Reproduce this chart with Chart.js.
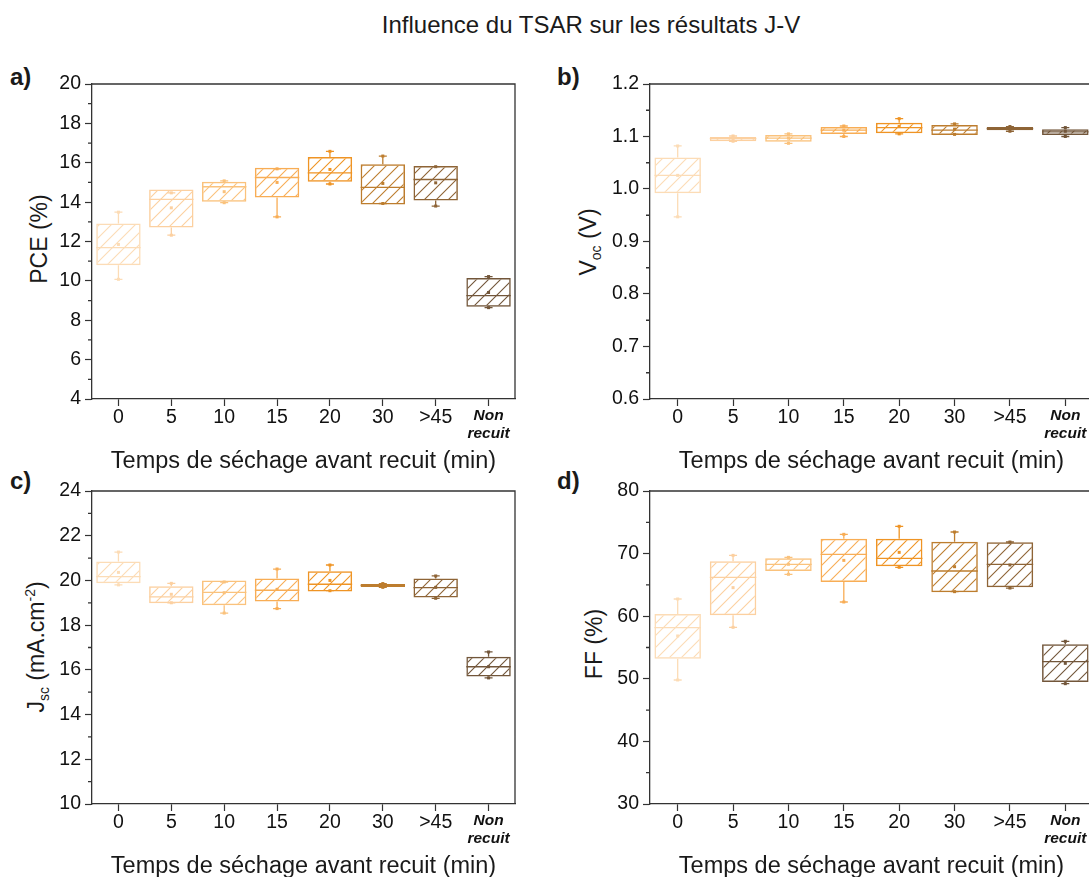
<!DOCTYPE html>
<html>
<head>
<meta charset="utf-8">
<script src="https://cdn.jsdelivr.net/npm/chart.js@4.4.1/dist/chart.umd.min.js"></script>
<style>
  body { margin: 0; width: 1089px; height: 877px; overflow: hidden; position: relative; background: #fff;
         font-family: "Liberation Sans", Arial, sans-serif; color: #1a1a1a; }
  .panel { position: absolute; }
  .main-title { position: absolute; left: 291px; width: 600px; top: 11px; text-align: center; font-size: 24px; line-height: 28px; }
  .tag { position: absolute; font-weight: bold; font-size: 24px; line-height: 26px; }
  .ytitle { position: absolute; font-size: 23px; white-space: nowrap; transform: translate(-50%, -50%) rotate(-90deg); }
  .ytitle sub { font-size: 14px; vertical-align: -5px; }
  .ytitle sup { font-size: 14px; vertical-align: 9px; }
</style>
</head>
<body>
<div class="main-title">Influence du TSAR sur les résultats J-V</div>

<div class="tag" style="left:10px;top:64px">a)</div>
<div class="tag" style="left:557px;top:64px">b)</div>
<div class="tag" style="left:10px;top:468px">c)</div>
<div class="tag" style="left:557px;top:468px">d)</div>

<div class="ytitle" style="left:39px;top:239px">PCE (%)</div>
<div class="ytitle" style="left:589px;top:242px">V<sub>oc</sub> (V)</div>
<div class="ytitle" style="left:37px;top:647px">J<sub>sc</sub> (mA.cm<sup>-2</sup>)</div>
<div class="ytitle" style="left:594px;top:644px">FF (%)</div>

<div class="panel" style="left:0;top:60px;width:545px;height:419px"><canvas id="pce"></canvas></div>
<div class="panel" style="left:545px;top:60px;width:560px;height:419px"><canvas id="voc"></canvas></div>
<div class="panel" style="left:0;top:470px;width:545px;height:414px"><canvas id="jsc"></canvas></div>
<div class="panel" style="left:545px;top:470px;width:560px;height:414px"><canvas id="ff"></canvas></div>

<script>
const categories = ["0", "5", "10", "15", "20", "30", ">45", "Non recuit"];
const boxColors = ["#FCDCB6", "#FCD0A0", "#FAC27C", "#F8AD55", "#EF9424", "#BD7D2E", "#8E6436", "#72563A"];

// PCE (%)
const pceLow = [10.80, 12.71, 14.02, 14.24, 15.03, 13.88, 14.08, 8.68];
const pceHigh = [12.92, 14.64, 15.03, 15.75, 16.29, 15.93, 15.83, 10.15];
const pceMedian = [11.69, 14.14, 14.78, 15.25, 15.49, 14.75, 15.15, 9.25];
const pceMean = [11.85, 13.71, 14.53, 15.00, 15.66, 14.95, 14.98, 9.41];
const pceMin = [10.08, 12.32, 13.97, 13.25, 14.92, 13.93, 13.80, 8.64];
const pceMax = [13.49, 14.47, 15.08, 15.69, 16.58, 16.34, 15.80, 10.22];
const pceTicks = [4, 6, 8, 10, 12, 14, 16, 18, 20];

// Voc (V)
const vocLow = [0.992, 1.091, 1.090, 1.105, 1.106, 1.103, 1.112, 1.103];
const vocHigh = [1.060, 1.099, 1.103, 1.118, 1.126, 1.122, 1.118, 1.114];
const vocMedian = [1.026, 1.096, 1.097, 1.112, 1.117, 1.112, 1.115, 1.109];
const vocMean = [1.026, 1.096, 1.097, 1.112, 1.119, 1.114, 1.115, 1.110];
const vocMin = [0.947, 1.091, 1.087, 1.100, 1.105, 1.104, 1.110, 1.100];
const vocMax = [1.082, 1.101, 1.105, 1.120, 1.134, 1.124, 1.119, 1.117];
const vocTicks = [0.6, 0.7, 0.8, 0.9, 1.0, 1.1, 1.2];

// Jsc (mA.cm-2)
const jscLow = [19.87, 18.98, 18.89, 19.06, 19.51, 19.71, 19.24, 15.70];
const jscHigh = [20.85, 19.74, 20.00, 20.09, 20.41, 19.84, 20.09, 16.59];
const jscMedian = [20.17, 19.26, 19.47, 19.56, 19.83, 19.78, 19.68, 16.14];
const jscMean = [20.36, 19.38, 19.45, 19.60, 20.00, 19.78, 19.69, 16.14];
const jscMin = [19.80, 19.00, 18.54, 18.74, 19.54, 19.69, 19.20, 15.64];
const jscMax = [21.27, 19.87, 19.93, 20.51, 20.69, 19.86, 20.20, 16.80];
const jscTicks = [10, 12, 14, 16, 18, 20, 22, 24];

// FF (%)
const ffLow = [53.22, 60.14, 67.22, 65.46, 67.97, 63.81, 64.61, 49.49];
const ffHigh = [60.35, 68.76, 69.24, 72.39, 72.39, 71.91, 71.80, 55.51];
const ffMedian = [58.17, 66.21, 68.29, 69.88, 69.24, 67.22, 68.29, 52.74];
const ffMean = [56.84, 64.56, 68.29, 68.92, 70.20, 67.91, 68.18, 52.47];
const ffMin = [49.81, 58.22, 66.69, 62.27, 67.81, 63.92, 64.50, 49.22];
const ffMax = [62.75, 69.72, 69.40, 73.08, 74.36, 73.45, 71.85, 55.99];
const ffTicks = [30, 40, 50, 60, 70, 80];

const FONT = "Liberation Sans";
const AXIS = "#333333";

function hatch(color) {
    const c = document.createElement("canvas");
    c.width = 12; c.height = 12;
    const g = c.getContext("2d");
    g.strokeStyle = color;
    g.lineWidth = 1.1;
    g.beginPath();
    g.moveTo(0, 12); g.lineTo(12, 0);
    g.moveTo(-6, 6); g.lineTo(6, -6);
    g.moveTo(6, 18); g.lineTo(18, 6);
    g.stroke();
    return g.createPattern(c, "repeat");
}

// whiskers, median, mean, frame and minor ticks
const boxExtras = {
    id: "boxExtras",
    afterDatasetsDraw(chart, args, opts) {
        const ctx = chart.ctx;
        const y = chart.scales.y;
        const meta = chart.getDatasetMeta(0);
        ctx.save();
        meta.data.forEach((bar, i) => {
            const col = boxColors[i];
            const x = bar.x, half = bar.width / 2;
            const yLow = y.getPixelForValue(opts.low[i]);
            const yHigh = y.getPixelForValue(opts.high[i]);
            const yMin = y.getPixelForValue(opts.min[i]);
            const yMax = y.getPixelForValue(opts.max[i]);
            ctx.strokeStyle = col;
            ctx.fillStyle = col;
            ctx.lineWidth = 1.3;
            ctx.beginPath();
            if (yMax < yHigh) { ctx.moveTo(x, yHigh); ctx.lineTo(x, yMax); }
            if (yMin > yLow) { ctx.moveTo(x, yLow); ctx.lineTo(x, yMin); }
            // caps
            ctx.moveTo(x - 4, yMax); ctx.lineTo(x + 4, yMax);
            ctx.moveTo(x - 4, yMin); ctx.lineTo(x + 4, yMin);
            // median
            const yMed = y.getPixelForValue(opts.median[i]);
            ctx.moveTo(x - half, yMed); ctx.lineTo(x + half, yMed);
            ctx.stroke();
            ctx.fillRect(x - 1.5, yMax - 1.5, 3, 3);
            ctx.fillRect(x - 1.5, yMin - 1.5, 3, 3);
            const yMean = y.getPixelForValue(opts.mean[i]);
            ctx.fillRect(x - 1.5, yMean - 1.5, 3, 3);
        });

        const a = chart.chartArea;
        ctx.strokeStyle = AXIS;
        ctx.lineWidth = 1.3;
        ctx.beginPath();
        ctx.moveTo(a.left, a.top); ctx.lineTo(a.right, a.top); ctx.lineTo(a.right, a.bottom);
        // minor ticks halfway between the major ones
        const t = opts.ticks;
        for (let k = 0; k < t.length - 1; k++) {
            const py = y.getPixelForValue((t[k] + t[k + 1]) / 2);
            ctx.moveTo(a.left - 4, py); ctx.lineTo(a.left, py);
        }
        ctx.stroke();
        ctx.restore();
    }
};

function makePanel(id, s, yWidth, pad, decimals) {
    const ticks = s.ticks;
    new Chart(document.getElementById(id), {
        type: "bar",
        data: {
            labels: categories,
            datasets: [{
                data: categories.map((c, i) => [s.low[i], s.high[i]]),
                backgroundColor: boxColors.map(hatch),
                borderColor: boxColors,
                borderWidth: 1.5,
                borderSkipped: false,
                categoryPercentage: 0.84,
                barPercentage: 1
            }]
        },
        options: {
            responsive: true,
            maintainAspectRatio: false,
            animation: false,
            layout: { padding: pad },
            plugins: { legend: { display: false }, tooltip: { enabled: false }, boxExtras: s },
            scales: {
                x: {
                    afterFit: (sc) => { sc.height = 80; },
                    grid: { drawOnChartArea: false, offset: false, tickLength: 7, color: AXIS, tickWidth: 1.2 },
                    border: { color: AXIS, width: 1.3 },
                    ticks: {
                        padding: 0,
                        color: "#111",
                        maxRotation: 0,
                        autoSkip: false,
                        callback: (v, i) => categories[i].includes(" ") ? categories[i].split(" ") : categories[i],
                        font: (c) => categories[c.index] && categories[c.index].includes(" ")
                            ? { family: FONT, size: 15.5, weight: "bold", style: "italic", lineHeight: 1.2 }
                            : { family: FONT, size: 19.5 }
                    },
                    title: {
                        display: true,
                        text: "Temps de séchage avant recuit (min)",
                        color: "#1a1a1a",
                        font: { family: FONT, size: 23.5 },
                        padding: { top: 4, bottom: 3 }
                    }
                },
                y: {
                    min: ticks[0],
                    max: ticks[ticks.length - 1],
                    afterFit: (sc) => { sc.width = yWidth; },
                    afterBuildTicks: (sc) => { sc.ticks = ticks.map(v => ({ value: v })); },
                    grid: { drawOnChartArea: false, tickLength: 7, color: AXIS, tickWidth: 1.2 },
                    border: { color: AXIS, width: 1.3 },
                    ticks: {
                        padding: 4,
                        color: "#111",
                        font: { family: FONT, size: 19.5 },
                        callback: (v) => v.toFixed(decimals)
                    }
                }
            }
        },
        plugins: [boxExtras]
    });
}

document.addEventListener("DOMContentLoaded", () => {
    makePanel("pce", { low: pceLow, high: pceHigh, median: pceMedian, mean: pceMean, min: pceMin, max: pceMax, ticks: pceTicks },
        92, { top: 24, right: 30, left: 0, bottom: 0 }, 0);
    makePanel("voc", { low: vocLow, high: vocHigh, median: vocMedian, mean: vocMean, min: vocMin, max: vocMax, ticks: vocTicks },
        105, { top: 24, right: 12, left: 0, bottom: 0 }, 1);
    makePanel("jsc", { low: jscLow, high: jscHigh, median: jscMedian, mean: jscMean, min: jscMin, max: jscMax, ticks: jscTicks },
        92, { top: 21, right: 30, left: 0, bottom: 0 }, 0);
    makePanel("ff", { low: ffLow, high: ffHigh, median: ffMedian, mean: ffMean, min: ffMin, max: ffMax, ticks: ffTicks },
        105, { top: 21, right: 12, left: 0, bottom: 0 }, 0);
});
</script>
</body>
</html>
